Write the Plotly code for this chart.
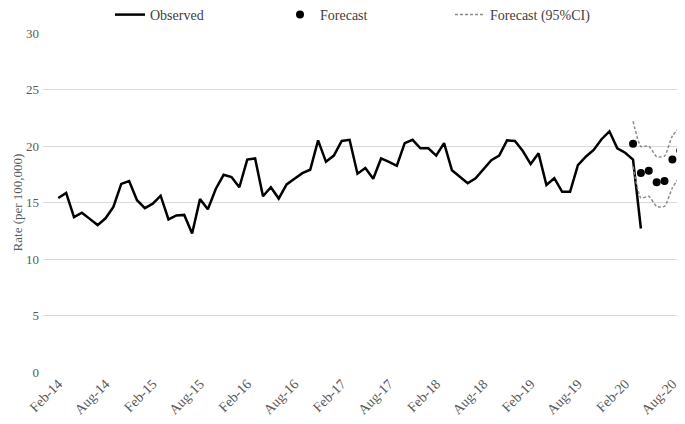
import pandas as pd
import plotly.graph_objects as go

# Month categories (Feb-14 .. Sep-20)
months = list(pd.date_range("2014-02-01", periods=80, freq="MS").strftime("%b-%y"))

observed = [15.4, 15.85, 13.7, 14.1, 13.55, 13.0, 13.6, 14.6, 16.65, 16.9,
            15.2, 14.5, 14.9, 15.6, 13.5, 13.85, 13.9, 12.25, 15.3, 14.4,
            16.2, 17.45, 17.25, 16.35, 18.8, 18.9, 15.55, 16.35, 15.35, 16.6,
            17.1, 17.6, 17.9, 20.5, 18.6, 19.15, 20.45, 20.55, 17.55, 18.05,
            17.1, 18.9, 18.6, 18.25, 20.25, 20.55, 19.8, 19.8, 19.15, 20.25,
            17.85, 17.3, 16.7, 17.15, 18.0, 18.75, 19.15, 20.5, 20.45, 19.55,
            18.4, 19.35, 16.55, 17.15, 15.95, 15.95, 18.3, 19.05, 19.65, 20.6,
            21.3, 19.8, 19.4, 18.8, 12.7]
observed_months = months[:len(observed)]

forecast_months = months[73:80]
forecast = [20.2, 17.6, 17.8, 16.8, 16.9, 18.8, 19.6]
ci_upper = [22.2, 19.95, 20.0, 19.05, 19.1, 20.9, 21.7]
ci_lower = [18.2, 15.4, 15.55, 14.65, 14.65, 16.3, 17.35]

tick_labels = ["Feb-14", "Aug-14", "Feb-15", "Aug-15", "Feb-16", "Aug-16", "Feb-17",
               "Aug-17", "Feb-18", "Aug-18", "Feb-19", "Aug-19", "Feb-20", "Aug-20"]
y_ticks = [0, 5, 10, 15, 20, 25, 30]

FONT = "Liberation Serif"
GREY = "#595959"

# page body keeps an 8px margin, so the figure fills the rest of the 685x424 window
W, H = 677, 416

fig = go.Figure()
fig.add_trace(go.Scatter(x=observed_months, y=observed, mode="lines", name="Observed",
                         line=dict(color="black", width=2.5)))
fig.add_trace(go.Scatter(x=forecast_months, y=forecast, mode="markers", name="Forecast",
                         marker=dict(color="black", size=8)))
fig.add_trace(go.Scatter(x=forecast_months, y=ci_upper, mode="lines", name="Forecast (95%CI)",
                         line=dict(color="#8c8c8c", width=1.5, dash="3px,2px", shape="spline", smoothing=0.5)))
fig.add_trace(go.Scatter(x=forecast_months, y=ci_lower, mode="lines", name="Forecast (95%CI)",
                         showlegend=False,
                         line=dict(color="#8c8c8c", width=1.5, dash="3px,2px", shape="spline", smoothing=0.5)))

fig.update_layout(
    width=W, height=H,
    margin=dict(l=35, r=0, t=25, b=52, autoexpand=False),
    paper_bgcolor="white", plot_bgcolor="white",
    font=dict(family=FONT, size=13, color=GREY),
    showlegend=True,
    legend=dict(orientation="h", xref="container", yref="container",
                x=102/W, xanchor="left", y=1 - 7/H, yanchor="middle",
                entrywidth=125, entrywidthmode="pixels",
                font=dict(family=FONT, size=14, color="#404040"),
                bgcolor="rgba(0,0,0,0)", tracegroupgap=0),
    xaxis=dict(type="category", categoryorder="array", categoryarray=months,
               range=[-1.94, 79.6], tickmode="array", tickvals=tick_labels, ticktext=tick_labels,
               tickangle=-45, showgrid=False, showline=False, zeroline=False, ticks="",
               automargin=False,
               tickfont=dict(family=FONT, size=14, color=GREY)),
    yaxis=dict(range=[0, 30], tickmode="array", tickvals=y_ticks, showgrid=True,
               gridcolor="#d9d9d9", gridwidth=1, zeroline=False, showline=False, ticks="",
               automargin=False, ticklabelstandoff=3,
               tickfont=dict(family=FONT, size=13, color=GREY),
               title=dict(text="Rate (per 100,000)", standoff=0,
                          font=dict(family=FONT, size=13, color=GREY))),
)

fig.write_html("out.html")
